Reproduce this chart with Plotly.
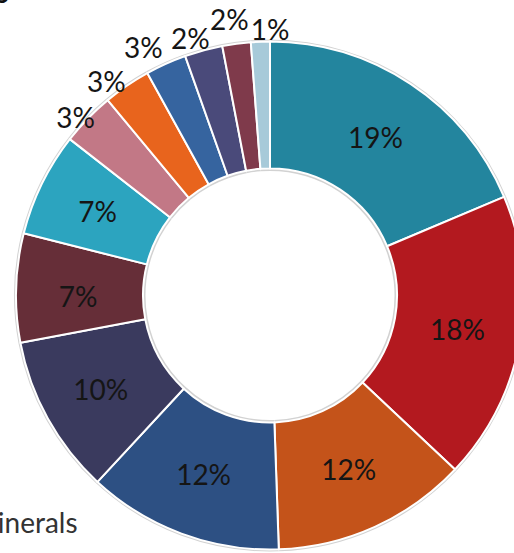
import plotly.graph_objects as go

categories = ["Cat A", "Cat B", "Cat C", "Cat D", "Cat E", "Cat F", "Cat G",
              "Cat H", "Cat I", "Cat J", "Cat K", "Cat L", "Cat M"]
values = [18.6, 18.3, 12.4, 12.4, 10.1, 6.9, 6.6, 3.4, 3.0, 2.6, 2.4, 1.8, 1.2]
colors = ["#23859E", "#B3191F", "#C4531A", "#2D5083", "#3A3A5E", "#662E38", "#2CA4BF",
          "#C27886", "#E8641D", "#36649F", "#4A4A7A", "#7F3A4B", "#A7CAD9"]
# where each slice's percentage is written: -1 = inside the main ring,
# other ids = a transparent label ring (see RINGS below)
label_ring = [-1, -1, -1, -1, -1, 0, 0, 1, 2, 3, 4, 5, 6]

# label ring id -> (text radius px, rotation deg)
RINGS = {0: (192, 0), 1: (264, -1.6), 2: (270, -3), 3: (279, -2.8),
         4: (270, -2), 5: (279, -0.8), 6: (267, 2.1)}

SHIFT = 40                      # figure is slid left by this many px in the page
W, H = 600, 600
CX, CY = 270 + SHIFT, 295.5     # pie centre in figure px (top-left origin)


def dom(r):
    return dict(x=[(CX - r) / W, (CX + r) / W],
                y=[(H - (CY + r)) / H, (H - (CY - r)) / H])


common = dict(labels=categories, values=values, sort=False, direction="clockwise",
              showlegend=False, hoverinfo="skip")
font = dict(family="Lato", size=28, color="#151515")
clear = ["rgba(0,0,0,0)"] * len(values)

fig = go.Figure()
# faint grey edge behind the ring
fig.add_trace(go.Pie(**common, rotation=0, hole=124.5 / 256, domain=dom(256), textinfo="none",
                     marker=dict(colors=["#D2D2D2"] * len(values), line=dict(width=0))))
# main ring
fig.add_trace(go.Pie(**common, rotation=0, hole=0.5, domain=dom(254),
                     marker=dict(colors=colors, line=dict(color="white", width=2)),
                     texttemplate=["%{percent:.0%}" if g == -1 else "" for g in label_ring],
                     textposition="inside", insidetextorientation="horizontal",
                     textfont=font))

# remaining percentage labels on thin transparent rings
for ring, (r_text, rot) in RINGS.items():
    R = r_text + 4
    fig.add_trace(go.Pie(**common, rotation=rot, hole=(2 * r_text - R) / R, domain=dom(R),
                         marker=dict(colors=clear, line=dict(width=0)),
                         texttemplate=["%{percent:.0%}" if g == ring else "" for g in label_ring],
                         textposition="inside", insidetextorientation="horizontal",
                         textfont=font))

fig.add_annotation(text="<b>Sources</b>", xref="paper", yref="paper",
                   x=(11 + SHIFT) / W, y=(H - 11) / H, xanchor="right", yanchor="bottom",
                   showarrow=False, font=dict(family="Lato", size=30, color="#111"))
fig.add_annotation(text="Minerals", xref="paper", yref="paper",
                   x=(80 + SHIFT) / W, y=(H - 522) / H, xanchor="right", yanchor="middle",
                   showarrow=False, font=dict(family="Lato", size=28, color="#333"))

fig.update_layout(width=W, height=H, margin=dict(l=0, r=0, t=0, b=0, autoexpand=False),
                  paper_bgcolor="white", plot_bgcolor="white",
                  uniformtext=dict(minsize=28, mode="show"))

fig.write_html("out.html", config=dict(displayModeBar=False), post_script=(
    "document.body.style.margin='0 0 0 -%dpx';"
    "document.body.style.overflow='hidden';"
    "document.documentElement.style.overflow='hidden';" % SHIFT))
